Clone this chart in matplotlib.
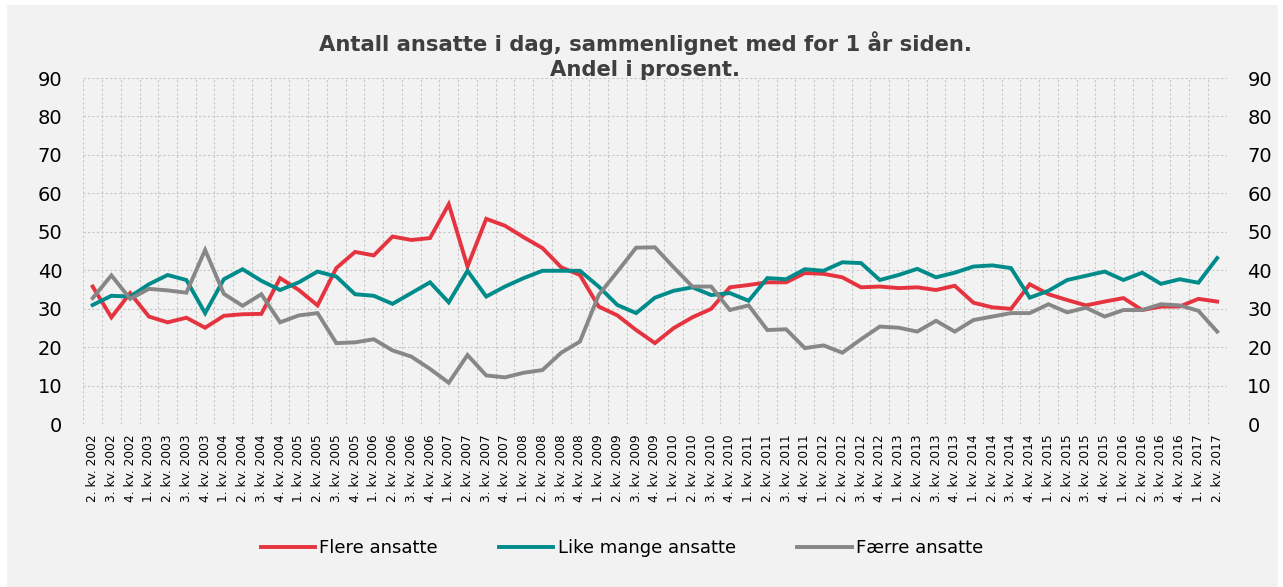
import matplotlib.pyplot as plt
import matplotlib.patches as mpatches
import numpy as np

plt.rcParams['font.family'] = ['DejaVu Sans']

# kvartaler fra 2. kv. 2002 til 2. kv. 2017
kvartaler = []
for aar in range(2002, 2018):
    for kv in range(1, 5):
        if (aar == 2002 and kv < 2) or (aar == 2017 and kv > 2):
            continue
        kvartaler.append("%d. kv. %d" % (kv, aar))

flere = [35.8, 27.8, 34.1, 28.0, 26.5, 27.7, 25.1, 28.2, 28.6, 28.7,
         38.0, 34.9, 30.9, 40.6, 44.8, 43.9, 48.8, 47.9, 48.4, 57.2,
         41.0, 53.4, 51.6, 48.6, 45.8, 40.8, 38.8, 30.6, 28.3, 24.5,
         21.1, 25.0, 27.8, 30.0, 35.6, 36.2, 36.9, 36.9, 39.3, 39.1,
         38.2, 35.6, 35.8, 35.4, 35.6, 34.9, 36.0, 31.6, 30.4, 30.0,
         36.4, 33.8, 32.3, 30.9, 31.9, 32.8, 29.7, 30.6, 30.6, 32.6,
         31.9]
like_mange = [31.0, 33.4, 33.2, 36.4, 38.8, 37.5, 28.9, 37.7, 40.3, 37.3,
              34.9, 36.9, 39.7, 38.4, 33.8, 33.4, 31.3, 34.1, 36.9, 31.7,
              39.9, 33.2, 35.8, 38.0, 39.9, 39.9, 39.9, 35.8, 31.0, 28.9,
              32.9, 34.7, 35.6, 33.6, 34.1, 32.1, 38.0, 37.7, 40.3, 39.9,
              42.1, 41.9, 37.5, 38.8, 40.4, 38.2, 39.4, 41.0, 41.3, 40.6,
              32.9, 34.7, 37.5, 38.6, 39.7, 37.5, 39.4, 36.5, 37.7, 36.8,
              43.2]
faerre = [32.8, 38.7, 32.6, 35.2, 34.8, 34.2, 45.3, 33.9, 30.8, 33.8,
          26.5, 28.3, 28.9, 21.1, 21.3, 22.1, 19.2, 17.6, 14.4, 10.8,
          18.0, 12.7, 12.2, 13.4, 14.1, 18.6, 21.5, 33.6, 39.7, 45.9,
          46.0, 40.8, 35.8, 35.8, 29.7, 30.9, 24.5, 24.7, 19.8, 20.5,
          18.6, 22.1, 25.4, 25.1, 24.1, 26.9, 24.1, 27.1, 28.0, 28.9,
          28.9, 31.2, 29.1, 30.3, 28.0, 29.7, 29.7, 31.2, 30.9, 29.5,
          24.1]

rod = '#e63340'
gronn = '#008b8b'
gra = '#878787'
bakgrunn = '#f2f2f2'

fig = plt.figure(figsize=(12.83, 5.87), dpi=100, facecolor='white')
fig.patches.append(mpatches.Rectangle((7/1283, 0), 1271/1283, 582/587,
                                      transform=fig.transFigure,
                                      facecolor=bakgrunn, edgecolor='none', zorder=-10))

ax = fig.add_axes([83.3/1283, 1-424.3/587, (1226.5-83.3)/1283, (424.3-78)/587])
ax.set_facecolor(bakgrunn)

x = np.arange(len(kvartaler))
ax.plot(x, flere, color=rod, linewidth=2.8, label='Flere ansatte', solid_joinstyle='miter')
ax.plot(x, like_mange, color=gronn, linewidth=2.8, label='Like mange ansatte', solid_joinstyle='miter')
ax.plot(x, faerre, color=gra, linewidth=2.8, label='Færre ansatte', solid_joinstyle='miter')

ax.set_xlim(-0.5, len(kvartaler) - 0.5)
ax.set_ylim(0, 90)
ax.set_yticks(range(0, 91, 10))
ax.set_xticks(x)
ax.set_xticklabels(kvartaler, rotation=90, fontsize=8.8)
ax.set_xticks(np.arange(-0.5, len(kvartaler), 1), minor=True)

ax.grid(which='minor', axis='x', linestyle=(0, (2, 2)), color='#c6c6c6', linewidth=0.8)
ax.grid(which='major', axis='y', linestyle=(0, (2, 2)), color='#c6c6c6', linewidth=0.8)
ax.set_axisbelow(True)
for s in ax.spines.values():
    s.set_visible(False)

ax.tick_params(axis='y', which='both', length=0, labelsize=14, pad=15,
               labelright=True, right=False)
ax.tick_params(axis='x', which='both', length=0, pad=7)

fig.text(645/1283, 1-55.5/587, "Antall ansatte i dag, sammenlignet med for 1 år siden.\nAndel i prosent.",
         ha='center', va='center', fontsize=15.2, fontweight='bold', color='#3f3f3f',
         linespacing=1.26)

fig.legend(loc='center', bbox_to_anchor=(622/1283, 1-548/587), ncol=3, frameon=False,
           fontsize=13, handlelength=3.0, handletextpad=0.25, columnspacing=3.4)

fig.savefig('out.png', dpi=100, facecolor=fig.get_facecolor())
